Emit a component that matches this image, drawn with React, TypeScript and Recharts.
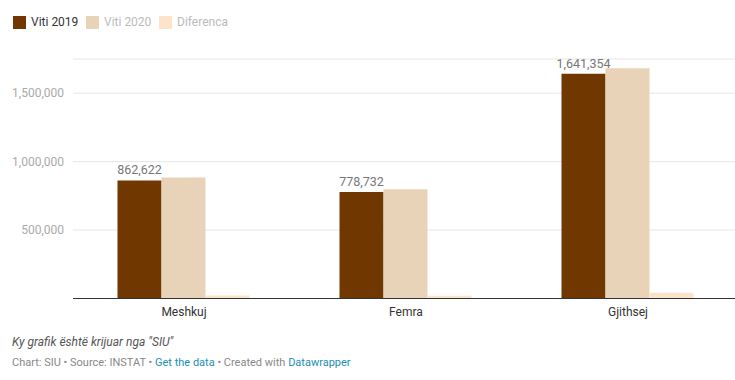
import React from "react"
import { BarChart, Bar, XAxis, YAxis, CartesianGrid, LabelList } from "recharts"

const categories = ["Meshkuj", "Femra", "Gjithsej"]
const viti2019 = [862622, 778732, 1641354]
const viti2020 = [884000, 799000, 1683000]
const diferenca = [21378, 20268, 41646]
const yTicks = [500000, 1000000, 1500000]

const COLORS = {
  v2019: "#703800",
  v2020: "#e8d3b9",
  diff: "#fce4cb",
}

const data = categories.map((name, i) => ({
  name,
  v2019: viti2019[i],
  v2020: viti2020[i],
  diff: diferenca[i],
}))

const fmt = (v: number) => v.toLocaleString("en-US")

const legendItems = [
  { label: "Viti 2019", color: COLORS.v2019, text: "#333333", x: 13 },
  { label: "Viti 2020", color: COLORS.v2020, text: "#bbbbbb", x: 86 },
  { label: "Diferenca", color: COLORS.diff, text: "#bbbbbb", x: 159 },
]

export default function App() {
  return (
    <div
      style={{
        position: "absolute",
        left: 0,
        top: 0,
        width: 735,
        height: 380,
        overflow: "hidden",
        background: "#fff",
        fontFamily: "Roboto, sans-serif",
      }}
    >
      {legendItems.map((it) => (
        <div
          key={it.label}
          style={{
            position: "absolute",
            left: it.x,
            top: 16,
            display: "flex",
            alignItems: "center",
            fontSize: 12,
            color: it.text,
            lineHeight: "13px",
          }}
        >
          <span
            style={{
              display: "inline-block",
              width: 13,
              height: 13,
              background: it.color,
              marginRight: 5,
            }}
          />
          {it.label}
        </div>
      ))}

      <div style={{ position: "absolute", left: 0, top: 0 }}>
        <BarChart
          width={739}
          height={380}
          data={data}
          margin={{ top: 59, right: 0, bottom: 51.5, left: 0 }}
          barCategoryGap={44.5}
          barGap={0}
        >
          <CartesianGrid vertical={false} stroke="#e6e6e6" />
          <XAxis
            dataKey="name"
            height={30}
            tickLine={false}
            tickSize={0}
            tickMargin={9}
            axisLine={{ stroke: "#333333" }}
            tick={{ fontSize: 12, fill: "#333333", fontFamily: "Roboto" }}
          />
          <YAxis
            width={73}
            domain={[0, 1750000]}
            ticks={yTicks}
            tickFormatter={fmt}
            axisLine={false}
            tickLine={false}
            tickSize={0}
            tickMargin={9}
            tick={{ fontSize: 12, fill: "#aaaaaa", fontFamily: "Roboto" }}
          />
          <Bar dataKey="v2019" fill={COLORS.v2019} isAnimationActive={false}>
            <LabelList
              dataKey="v2019"
              position="top"
              offset={6}
              formatter={(v: any) => fmt(Number(v))}
              style={{ fontSize: 12.5, fill: "#777777", fontFamily: "Roboto" }}
            />
          </Bar>
          <Bar dataKey="v2020" fill={COLORS.v2020} isAnimationActive={false} />
          <Bar dataKey="diff" fill={COLORS.diff} isAnimationActive={false} />
        </BarChart>
      </div>

      <div
        style={{
          position: "absolute",
          left: 12,
          top: 335,
          fontSize: 12,
          fontStyle: "italic",
          color: "#555555",
        }}
      >
        Ky grafik është krijuar nga "SIU"
      </div>
      <div
        style={{
          position: "absolute",
          left: 12,
          top: 356,
          fontSize: 11,
          color: "#888888",
        }}
      >
        Chart: SIU • Source: INSTAT •{" "}
        <span style={{ color: "#1d8fb0" }}>Get the data</span> • Created with{" "}
        <span style={{ color: "#1d8fb0" }}>Datawrapper</span>
      </div>
    </div>
  )
}
